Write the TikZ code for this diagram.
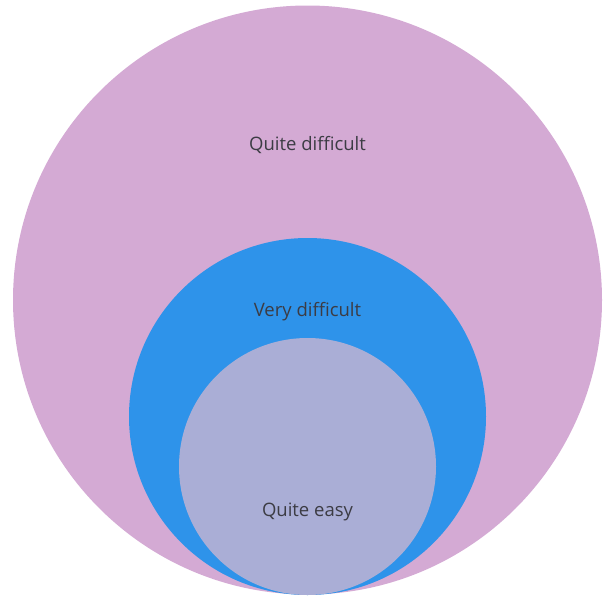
\documentclass[tikz,border=0pt]{standalone}
\usepackage{fontspec}
\setmainfont{Open Sans}
\definecolor{pinkc}{RGB}{212,170,212}
\definecolor{bluec}{RGB}{46,147,234}
\definecolor{lavc}{RGB}{170,174,214}
\definecolor{txtc}{RGB}{60,60,68}
\begin{document}
\begin{tikzpicture}[x=1pt,y=-1pt,
  lbl/.style={text=txtc,font=\fontsize{18.5}{21}\selectfont,inner sep=0pt}]
\useasboundingbox (0,0) rectangle (613,597);
\fill[pinkc] (307.5,300) circle (294.5);
\fill[bluec] (307.5,416.5) circle (178.5);
\fill[lavc] (307.5,466.5) circle (128.5);
\node[lbl] (qd) at (307.5,145) {Quite difficult};
\node[lbl] (vd) at (307.5,312) {Very difficult};
\node[lbl] (qe) at (307.5,512) {Quite easy};
\end{tikzpicture}
\end{document}
